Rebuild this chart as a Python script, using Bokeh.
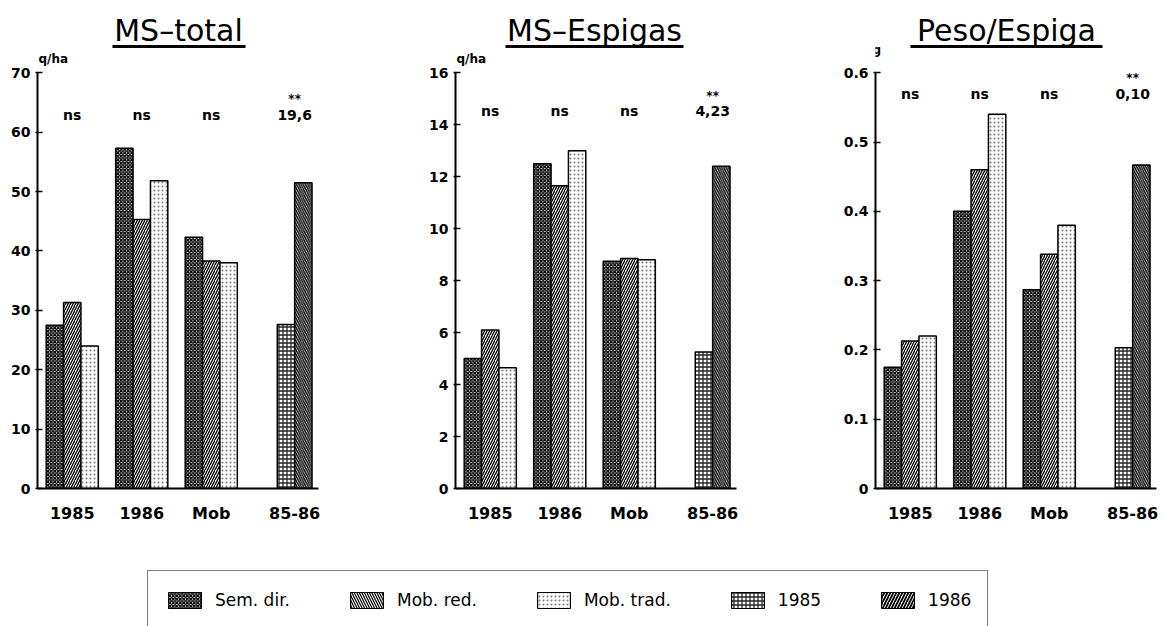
from bokeh.plotting import figure
from bokeh.layouts import row, column
from bokeh.models import (Range1d, FixedTicker, Label, BoxAnnotation,
                          Legend, LegendItem)
from bokeh.embed import file_html
from bokeh.resources import INLINE

# ---------------------------------------------------------------- data
groups = ["1985", "1986", "Mob", "85-86"]
treatments = ["Sem. dir.", "Mob. red.", "Mob. trad."]
years = ["1985", "1986"]

# MS-total (q/ha): per treatment for 1985, 1986 and Mob; per year for 85-86
ms_total_sem = [27.5, 57.3, 42.3]
ms_total_red = [31.3, 45.3, 38.3]
ms_total_trad = [24.0, 51.8, 38.0]
ms_total_years = [27.6, 51.5]
ms_total_stats = ["ns", "ns", "ns", "19,6"]

# MS-Espigas (q/ha)
ms_esp_sem = [5.0, 12.5, 8.75]
ms_esp_red = [6.1, 11.65, 8.85]
ms_esp_trad = [4.65, 13.0, 8.8]
ms_esp_years = [5.25, 12.4]
ms_esp_stats = ["ns", "ns", "ns", "4,23"]

# Peso/Espiga (g)
peso_sem = [0.175, 0.40, 0.287]
peso_red = [0.213, 0.46, 0.338]
peso_trad = [0.22, 0.54, 0.38]
peso_years = [0.203, 0.467]
peso_stats = ["ns", "ns", "ns", "0,10"]

y_ticks_total = [0, 10, 20, 30, 40, 50, 60, 70]
y_ticks_esp = [0, 2, 4, 6, 8, 10, 12, 14, 16]
y_ticks_peso = [0, 0.1, 0.2, 0.3, 0.4, 0.5, 0.6]

# ---------------------------------------------------------------- styles
FONT = "DejaVu Sans"
TREAT_STYLE = [
    dict(fill_color="white", hatch_pattern="diagonal_cross", hatch_color="black",
         hatch_scale=3.5, hatch_weight=1.4),
    dict(fill_color="white", hatch_pattern="right_diagonal_line", hatch_color="black",
         hatch_scale=5, hatch_weight=1.3),
    dict(fill_color="white", hatch_pattern="dot", hatch_color="#777777",
         hatch_scale=4, hatch_weight=1.0),
]
YEAR_STYLE = [
    dict(fill_color="white", hatch_pattern="cross", hatch_color="black",
         hatch_scale=4, hatch_weight=1.3, hatch_alpha=0.85),
    dict(fill_color="white", hatch_pattern="left_diagonal_line", hatch_color="black",
         hatch_scale=4.5, hatch_weight=1.4),
]

# ---------------------------------------------------------------- layout (page px)
PANEL_H = 525          # height of each chart figure
AXIS_Y = 493           # page y of the value 0
TOP_Y = 73             # page y of the top tick
PPU_X = 69.5           # px per group step
X0 = 0.5               # data x at the y axis
X_END = 4.55           # data x where the x axis line ends
PAIR_X = 4.2           # centre of the 85-86 pair
BAR_W = 0.25


def make_panel(left, width, axis_px, ymax, yticks, ylabels, unit, unit_px,
               title, title_px, underline_px, series, years_vals, stats, stat_py):
    ppu_y = (AXIS_Y - TOP_Y) / ymax
    frame_w = width - (axis_px - left)

    def xd(px):
        return X0 + (px - axis_px) / PPU_X

    def yd(py):
        return (AXIS_Y - py) / ppu_y

    p = figure(width=width, height=PANEL_H, output_backend="svg", toolbar_location=None,
               x_range=Range1d(X0, X0 + frame_w / PPU_X),
               y_range=Range1d(0, AXIS_Y / ppu_y),
               min_border_left=axis_px - left, min_border_right=0,
               min_border_top=0, min_border_bottom=PANEL_H - AXIS_Y)
    p.outline_line_color = None
    p.grid.visible = False
    p.background_fill_color = "white"
    p.border_fill_color = "white"

    # treatment bars for 1985, 1986, Mob
    centers = [1, 2, 3]
    for k, (vals, style) in enumerate(zip(series, TREAT_STYLE)):
        xs = [c + (k - 1) * BAR_W for c in centers]
        p.vbar(x=xs, top=vals, bottom=0, width=BAR_W, line_color="black",
               line_width=1.5, **style)
    # year bars for 85-86
    for k, (val, style) in enumerate(zip(years_vals, YEAR_STYLE)):
        p.vbar(x=[PAIR_X + (k - 0.5) * BAR_W], top=[val], bottom=0, width=BAR_W,
               line_color="black", line_width=1.5, **style)

    # axes
    xa = p.xaxis[0]
    xa.ticker = FixedTicker(ticks=[1, 2, 3, PAIR_X])
    xa.major_label_overrides = {1: groups[0], 2: groups[1], 3: groups[2], PAIR_X: groups[3]}
    xa.bounds = (X0, X_END)
    xa.axis_line_width = 2
    xa.major_tick_line_color = None
    xa.minor_tick_line_color = None
    xa.major_label_standoff = 9
    xa.major_label_text_font = FONT
    xa.major_label_text_font_style = "bold"
    xa.major_label_text_font_size = "16px"
    xa.major_label_text_color = "black"

    ya = p.yaxis[0]
    ya.ticker = FixedTicker(ticks=yticks)
    ya.major_label_overrides = {t: s for t, s in zip(yticks, ylabels)}
    ya.bounds = (0, ymax)
    ya.axis_line_width = 2
    ya.major_tick_in = 5
    ya.major_tick_out = 2
    ya.major_tick_line_width = 1.5
    ya.minor_tick_line_color = None
    ya.major_label_standoff = 5
    ya.major_label_text_font = FONT
    ya.major_label_text_font_style = "bold"
    ya.major_label_text_font_size = "14px"
    ya.major_label_text_color = "black"

    # unit
    p.add_layout(Label(x=xd(unit_px[0]), y=yd(unit_px[1]), text=unit,
                       text_font=FONT, text_font_style="bold", text_font_size="12px",
                       text_color="black", text_baseline="middle", text_align="left"))
    # title with underline
    p.add_layout(Label(x=xd(title_px[0]), y=yd(title_px[1]), text=title,
                       text_font=FONT, text_font_size="30px", text_color="black",
                       text_baseline="middle", text_align="center"))
    p.add_layout(BoxAnnotation(left=xd(underline_px[0]), right=xd(underline_px[1]),
                               bottom=yd(48), top=yd(45), fill_color="black",
                               fill_alpha=1, line_color=None))
    # significance labels
    for c, s in zip(centers + [PAIR_X], stats):
        p.add_layout(Label(x=c, y=yd(stat_py), text=s, text_font=FONT,
                           text_font_style="bold", text_font_size="14px",
                           text_color="black", text_baseline="middle",
                           text_align="center"))
        if s != "ns":
            p.add_layout(Label(x=c, y=yd(stat_py - 16), text="**", text_font=FONT,
                               text_font_style="bold", text_font_size="12px",
                               text_color="black", text_baseline="middle",
                               text_align="center"))
    return p


p1 = make_panel(0, 420, 37, 70, y_ticks_total, [str(t) for t in y_ticks_total],
                "q/ha", (38, 59), "MS\u2013total", (178, 30), (112, 245),
                [ms_total_sem, ms_total_red, ms_total_trad], ms_total_years,
                ms_total_stats, 116)
p2 = make_panel(420, 420, 455, 16, y_ticks_esp, [str(t) for t in y_ticks_esp],
                "q/ha", (456, 59), "MS\u2013Espigas", (594, 30), (505, 683),
                [ms_esp_sem, ms_esp_red, ms_esp_trad], ms_esp_years,
                ms_esp_stats, 112)
p3 = make_panel(840, 322, 875, 0.6, y_ticks_peso,
                ["0", "0.1", "0.2", "0.3", "0.4", "0.5", "0.6"],
                "g", (872, 50), "Peso/Espiga", (1006, 30), (910, 1102),
                [peso_sem, peso_red, peso_trad], peso_years,
                peso_stats, 94)

# ---------------------------------------------------------------- legend strip
lf = figure(width=1162, height=626 - PANEL_H, output_backend="svg", toolbar_location=None,
            x_range=Range1d(0, 1), y_range=Range1d(0, 1), x_axis_type=None, y_axis_type=None,
            min_border=0)
lf.outline_line_color = None
lf.grid.visible = False

LEGEND_STYLE = [
    TREAT_STYLE[0],
    dict(fill_color="white", hatch_pattern="left_diagonal_line", hatch_color="black",
         hatch_scale=5, hatch_weight=1.2),
    TREAT_STYLE[2],
    YEAR_STYLE[0],
    dict(fill_color="white", hatch_pattern="right_diagonal_line", hatch_color="black",
         hatch_scale=6, hatch_weight=1.8),
]
items = []
for name, style in zip(treatments + years, LEGEND_STYLE):
    # one swatch-holder bar per entry, kept outside the visible ranges
    r = lf.vbar(x=[-5], top=[-4], bottom=-5, width=0.1, line_color="black",
                line_width=1.2, **style)
    items.append(LegendItem(label=name, renderers=[r]))

legend = Legend(items=items, orientation="horizontal", location=(147, -4),
                border_line_color="black", border_line_width=1.5,
                background_fill_color="white", background_fill_alpha=1,
                padding=16, spacing=56, label_standoff=10, margin=0,
                glyph_width=41, glyph_height=20, label_height=26,
                label_text_font=FONT, label_text_font_size="17px",
                label_text_color="black")
lf.add_layout(legend)

layout = column(row(p1, p2, p3), lf)
open("out.html", "w").write(file_html(layout, INLINE))
